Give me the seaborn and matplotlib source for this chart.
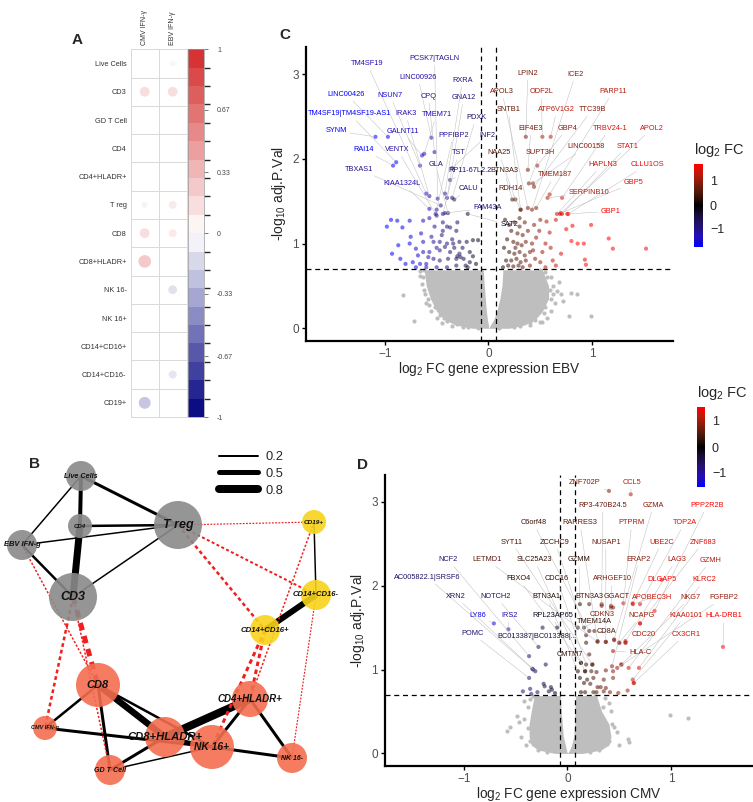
"""
Immune cell correlations (A, B) and volcano plots for EBV / CMV (C, D)
"""

import numpy as np
import pandas as pd
import matplotlib
matplotlib.use('Agg')
import matplotlib.pyplot as plt
import seaborn as sns
from matplotlib.colors import LinearSegmentedColormap, ListedColormap, BoundaryNorm, Normalize, TwoSlopeNorm
from matplotlib.cm import ScalarMappable
from matplotlib.lines import Line2D

sns.set_theme(style='white')
plt.rcParams['font.family'] = ['Liberation Sans', 'DejaVu Sans']
plt.rcParams['mathtext.fontset'] = 'custom'
plt.rcParams['mathtext.rm'] = 'Liberation Sans'
plt.rcParams['mathtext.it'] = 'Liberation Sans:italic'

# ============================================================
# DATA
# ============================================================
# --- A: correlation of IFN-y response with cell populations
a_rows = ['Live Cells', 'CD3', 'GD T Cell', 'CD4', 'CD4+HLADR+', 'T reg', 'CD8',
          'CD8+HLADR+', 'NK 16-', 'NK 16+', 'CD14+CD16+', 'CD14+CD16-', 'CD19+']
a_cols = ['CMV IFN-γ', 'EBV IFN-γ']
a_cmv = [0, 0.15, 0, 0, 0, -0.05, 0.15, 0.25, 0, 0, 0, 0, -0.22]
a_ebv = [0.05, 0.15, 0, 0, 0, 0.10, 0.10, 0, -0.12, 0, 0, -0.10, 0]
a_ticks = [1, 0.67, 0.33, 0, -0.33, -0.67, -1]

# --- B: network
node_names = ['Live Cells', 'CD4', 'EBV IFN-g', 'T reg', 'CD3', 'CD19+', 'CD14+CD16-',
              'CD14+CD16+', 'CD8', 'CMV IFN-g', 'CD8+HLADR+', 'NK 16+', 'CD4+HLADR+',
              'NK 16-', 'GD T Cell']
node_group = ['grey'] * 5 + ['yellow'] * 3 + ['coral'] * 7
node_x = [81, 80, 22, 178, 73, 314, 316, 265, 98, 45, 165, 212, 250, 292, 110]
node_y = [476, 526, 545, 525, 597, 522, 595, 630, 685, 728, 737, 747, 699, 758, 770]
node_r = [15, 12, 15, 24, 24, 12, 15, 15, 22, 12, 20, 22, 18, 15, 15]
edge_src = ['Live Cells', 'CD4', 'Live Cells', 'Live Cells', 'CD4', 'EBV IFN-g', 'EBV IFN-g',
            'CD3', 'CD19+', 'CD14+CD16-', 'CD8', 'CD8', 'CD8', 'CD8', 'CMV IFN-g',
            'CD8+HLADR+', 'NK 16+', 'NK 16+', 'CD4+HLADR+', 'GD T Cell', 'GD T Cell',
            'CD8+HLADR+',
            'T reg', 'T reg', 'T reg', 'CD19+', 'CD14+CD16-', 'CD14+CD16+', 'CD14+CD16+',
            'CD3', 'CD3', 'EBV IFN-g', 'CD3']
edge_dst = ['CD4', 'CD3', 'T reg', 'EBV IFN-g', 'T reg', 'T reg', 'CD3',
            'T reg', 'CD14+CD16-', 'CD14+CD16+', 'CMV IFN-g', 'GD T Cell', 'CD8+HLADR+', 'NK 16+',
            'NK 16+', 'CD4+HLADR+', 'CD4+HLADR+', 'NK 16-', 'NK 16-', 'CD8+HLADR+', 'NK 16+',
            'NK 16+',
            'CD19+', 'CD14+CD16-', 'CD14+CD16+', 'CD4+HLADR+', 'NK 16-', 'CD4+HLADR+', 'NK 16+',
            'CD8', 'CMV IFN-g', 'CD8', 'GD T Cell']
edge_w = [0.40, 0.70, 0.30, 0.15, 0.25, 0.15, 0.25,
          0.15, 0.15, 0.60, 0.25, 0.30, 0.65, 0.25,
          0.30, 0.80, 0.30, 0.30, 0.30, 0.30, 0.15,
          0.30,
          -0.12, -0.20, -0.25, -0.15, -0.12, -0.30, -0.30,
          -0.50, -0.25, -0.15, -0.15]

# --- C: EBV volcano, labelled genes
c_genes = ['TM4SF19', 'PCSK7|TAGLN', 'LINC00926', 'RXRA', 'LINC00426', 'NSUN7', 'CPQ', 'GNA12',
           'TM4SF19|TM4SF19-AS1', 'IRAK3', 'TMEM71', 'PDXK', 'SYNM', 'GALNT11', 'PPFIBP2', 'INF2',
           'RAI14', 'VENTX', 'TST', 'TBXAS1', 'GLA', 'RP11-67L2.2', 'KIAA1324L', 'CALU', 'FAM43A', 'SAT2',
           'LPIN2', 'ICE2', 'APOL3', 'ODF2L', 'PARP11', 'SNTB1', 'ATP6V1G2', 'TTC39B', 'EIF4E3', 'GBP4',
           'TRBV24-1', 'APOL2', 'SUPT3H', 'LINC00158', 'STAT1', 'NAA25', 'HAPLN3', 'CLLU1OS', 'BTN3A3',
           'TMEM187', 'GBP5', 'RDH14', 'SERPINB10', 'GBP1']
c_fc = [-0.60, -0.49, -0.55, -0.42, -0.97, -0.66, -0.52, -0.40, -0.89, -0.57, -0.62, -0.35, -1.09,
        -0.64, -0.50, -0.35, -0.92, -0.51, -0.44, -0.46, -0.39, -0.37, -0.57, -0.33, -0.42, -0.20,
        0.36, 0.42, 0.38, 0.52, 0.59, 0.31, 0.60, 0.44, 0.38, 0.47, 0.71, 0.69, 0.39, 0.43, 0.71,
        0.26, 0.66, 0.77, 0.23, 0.46, 0.70, 0.31, 0.57, 0.76]
c_p = [1.59, 1.53, 2.25, 1.59, 2.26, 1.92, 2.08, 1.54, 1.96, 1.56, 2.06, 1.54, 2.26, 2.04, 1.40,
       1.89, 1.92, 1.35, 1.35, 1.45, 1.36, 1.75, 1.41, 1.52, 1.36, 1.35,
       2.26, 1.40, 1.42, 2.26, 1.58, 1.40, 2.26, 1.67, 1.87, 1.92, 1.54, 1.35, 1.71, 1.71, 1.35,
       1.52, 1.35, 1.35, 1.52, 1.42, 1.36, 1.40, 1.54, 1.35]
# label positions (repelled)
c_tx = [-1.17, -0.52, -0.68, -0.25, -1.37, -0.95, -0.58, -0.24, -1.34, -0.80, -0.50, -0.12, -1.47,
        -0.83, -0.34, -0.01, -1.20, -0.88, -0.29, -1.25, -0.51, -0.18, -0.83, -0.19, -0.01, 0.20,
        0.38, 0.84, 0.13, 0.51, 1.20, 0.19, 0.66, 1.00, 0.41, 0.76, 1.17, 1.58, 0.50, 0.94, 1.34,
        0.10, 1.10, 1.53, 0.15, 0.64, 1.40, 0.21, 0.97, 1.18]
c_ty = [3.12, 3.18, 2.96, 2.93, 2.76, 2.75, 2.74, 2.72, 2.53, 2.53, 2.52, 2.49, 2.33, 2.32, 2.28,
        2.28, 2.11, 2.11, 2.07, 1.88, 1.93, 1.86, 1.71, 1.65, 1.42, 1.22,
        3.01, 3.00, 2.79, 2.79, 2.79, 2.58, 2.58, 2.58, 2.36, 2.36, 2.36, 2.36, 2.07, 2.14, 2.15,
        2.07, 1.93, 1.93, 1.86, 1.81, 1.72, 1.65, 1.60, 1.38]
# other significant genes (logFC, -log10 adj.P)
c_sig = np.array([
    (-0.94, 1.28), (-0.98, 1.20), (-0.88, 1.27), (-0.83, 1.19), (-0.76, 1.27), (-0.63, 1.27),
    (-0.57, 1.30), (-0.50, 1.33), (-0.44, 1.25), (-0.37, 1.19), (-0.31, 1.15), (-0.44, 1.15),
    (-0.63, 1.02), (-0.53, 1.02), (-0.47, 1.02), (-0.40, 1.00), (-0.34, 1.00), (-0.28, 1.02),
    (-0.21, 1.02), (-0.15, 1.04), (-0.10, 1.04), (-0.87, 0.98), (-0.76, 1.00), (-0.70, 0.94),
    (-0.63, 0.90), (-0.57, 0.90), (-0.47, 0.92), (-0.37, 0.90), (-0.28, 0.88), (-0.18, 0.90),
    (-0.73, 0.78), (-0.66, 0.76), (-0.60, 0.76), (-0.53, 0.82), (-0.47, 0.80), (-0.39, 0.82),
    (-0.31, 0.82), (-0.24, 0.82), (-0.18, 0.78), (-0.12, 0.76), (-0.80, 0.76), (-0.31, 0.74),
    (-0.22, 0.74), (-0.42, 0.96), (-0.50, 0.95), (-0.33, 0.95), (-0.30, 0.85), (-0.27, 0.84),
    (-0.55, 1.08), (-0.45, 1.10), (-0.35, 1.05), (-0.25, 0.95), (-0.58, 0.84), (-0.68, 0.86),
    (-0.85, 0.82), (-0.93, 0.88), (-0.40, 0.72), (-0.50, 0.72), (-0.60, 0.72), (-0.70, 0.72),
    (-0.20, 0.72), (-0.15, 0.85), (-0.52, 1.20), (-0.40, 1.20), (-0.30, 1.25), (-0.65, 1.12),
    (-0.75, 1.08),
    (0.16, 1.28), (0.20, 1.22), (0.25, 1.25), (0.30, 1.30), (0.35, 1.25), (0.22, 1.15),
    (0.28, 1.12), (0.33, 1.10), (0.38, 1.15), (0.18, 1.05), (0.24, 1.02), (0.28, 1.00),
    (0.32, 0.98), (0.36, 1.02), (0.42, 1.00), (0.20, 0.90), (0.25, 0.88), (0.30, 0.90),
    (0.35, 0.86), (0.40, 0.90), (0.17, 0.80), (0.22, 0.80), (0.27, 0.82), (0.31, 0.78),
    (0.36, 0.80), (0.45, 0.82), (0.19, 0.74), (0.24, 0.73), (0.29, 0.74), (0.33, 0.72),
    (0.40, 0.74), (0.50, 0.78), (0.55, 0.72), (0.15, 0.95), (0.46, 1.07), (0.49, 1.15),
    (0.59, 1.13), (0.55, 1.00), (0.62, 0.80), (0.65, 0.74), (0.75, 1.17), (0.81, 1.21),
    (0.80, 1.03), (0.86, 1.00), (0.92, 1.00), (0.93, 0.81), (0.94, 0.75), (0.99, 1.22),
    (1.16, 1.06), (1.20, 0.94), (1.52, 0.94), (0.43, 0.92), (0.52, 0.90), (0.60, 0.95),
    (0.70, 0.88), (0.26, 0.95), (0.14, 0.72), (0.44, 1.22), (0.50, 1.28), (0.56, 1.26),
    (0.65, 1.28), (0.30, 1.20)])
# non-significant cloud: outline per -log10 P level, plus stray points
c_ns_y = [0.0, 0.04, 0.10, 0.20, 0.35, 0.50, 0.69]
c_ns_lo = [-0.15, -0.32, -0.42, -0.50, -0.56, -0.60, -0.62]
c_ns_li = [0.00, 0.00, -0.01, -0.02, -0.03, -0.04, -0.05]
c_ns_ri = [0.00, 0.02, 0.05, 0.08, 0.11, 0.13, 0.14]
c_ns_ro = [0.20, 0.35, 0.45, 0.52, 0.58, 0.58, 0.52]
c_ns = np.array([
    (-0.82, 0.39), (-0.72, 0.09), (-0.66, 0.62), (-0.64, 0.52), (-0.62, 0.45), (-0.60, 0.30),
    (-0.55, 0.20), (-0.50, 0.12), (-0.45, 0.06), (-0.35, 0.03), (-0.66, 0.68), (-0.58, 0.66),
    (0.55, 0.66), (0.60, 0.60), (0.62, 0.50), (0.66, 0.44), (0.68, 0.55), (0.64, 0.30),
    (0.60, 0.20), (0.56, 0.12), (0.50, 0.08), (0.40, 0.04), (0.85, 0.40), (0.78, 0.15),
    (0.99, 0.15), (0.80, 0.42), (0.52, 0.07), (0.70, 0.40), (0.72, 0.32), (-0.50, 0.40),
    (-0.58, 0.58), (-0.20, 0.02), (0.25, 0.02), (-0.63, 0.60), (-0.61, 0.40), (-0.58, 0.35),
    (-0.52, 0.25), (-0.47, 0.16), (-0.40, 0.09), (-0.30, 0.05), (-0.25, 0.01), (-0.10, 0.00),
    (0.10, 0.00), (0.30, 0.03), (0.45, 0.10), (0.55, 0.25), (0.60, 0.35), (0.59, 0.45),
    (0.56, 0.60), (0.50, 0.69), (-0.62, 0.69), (-0.54, 0.44), (0.62, 0.40), (-0.57, 0.28),
    (0.54, 0.18), (-0.43, 0.12), (0.40, 0.08)])

# --- D: CMV volcano, labelled genes
d_genes = ['ZNF702P', 'CCL5', 'RP3-470B24.5', 'GZMA', 'PPP2R2B', 'C6orf48', 'RARRES3', 'PTPRM',
           'TOP2A', 'SYT11', 'ZCCHC9', 'NUSAP1', 'UBE2C', 'ZNF683', 'LETMD1', 'SLC25A23', 'GZMM',
           'ERAP2', 'LAG3', 'GZMH', 'FBXO4', 'CDC16', 'ARHGEF10', 'DLGAP5', 'KLRC2', 'BTN3A1',
           'BTN3A3', 'GGACT', 'APOBEC3H', 'NKG7', 'FGFBP2', 'CDKN3', 'NCAPG', 'KIAA0101', 'HLA-DRB1',
           'TMEM14A', 'CD8A', 'CDC20', 'CX3CR1', 'CMTM7', 'HLA-C',
           'NCF2', 'AC005822.1|SRSF6', 'XRN2', 'NOTCH2', 'LY86', 'IRS2', 'RPL23AP65', 'POMC',
           'BC013387|BC013388|...']
d_fc = [0.40, 0.61, 0.33, 0.45, 0.84, 0.21, 0.29, 0.54, 0.70, 0.24, 0.18, 0.37, 0.63, 0.70, 0.29,
        0.17, 0.12, 0.43, 0.56, 0.59, 0.13, 0.18, 0.42, 0.91, 0.69, 0.10, 0.21, 0.33, 0.63, 0.52,
        0.48, 0.44, 0.50, 0.63, 1.50, 0.16, 0.26, 0.56, 0.64, 0.21, 0.44,
        -0.37, -0.34, -0.31, -0.28, -0.71, -0.57, -0.10, -0.37, -0.24]
d_p = [3.13, 3.09, 1.76, 1.36, 1.70, 1.46, 1.34, 1.79, 1.78, 1.06, 1.41, 1.33, 1.79, 1.55, 1.33,
       0.98, 1.78, 1.04, 1.34, 1.02, 1.08, 1.06, 1.74, 2.07, 1.02, 0.98, 1.78, 1.78, 1.78, 1.06,
       1.02, 1.74, 1.32, 0.88, 1.27, 1.50, 1.46, 1.32, 0.84, 1.18, 1.22,
       1.16, 1.01, 0.98, 1.27, 1.55, 1.48, 1.50, 0.90, 1.50]
d_tx = [0.17, 0.62, 0.34, 0.83, 1.35, -0.33, 0.12, 0.62, 1.13, -0.54, -0.12, 0.37, 0.91, 1.31,
        -0.78, -0.32, 0.11, 0.69, 1.05, 1.38, -0.47, -0.10, 0.43, 0.91, 1.32, -0.20, 0.21, 0.47,
        0.82, 1.19, 1.51, 0.33, 0.71, 1.14, 1.51, 0.26, 0.38, 0.74, 1.14, 0.02, 0.70,
        -1.15, -1.35, -1.08, -0.69, -0.87, -0.56, -0.14, -0.92, -0.29]
d_ty = [3.23, 3.23, 2.96, 2.96, 2.96, 2.75, 2.75, 2.75, 2.75, 2.52, 2.52, 2.52, 2.52, 2.52, 2.31,
        2.31, 2.31, 2.31, 2.31, 2.30, 2.08, 2.08, 2.08, 2.07, 2.07, 1.87, 1.87, 1.87, 1.86, 1.86,
        1.86, 1.66, 1.64, 1.64, 1.64, 1.57, 1.45, 1.42, 1.42, 1.18, 1.20,
        2.31, 2.10, 1.87, 1.87, 1.65, 1.65, 1.65, 1.43, 1.39]
d_sig = np.array([
    (-0.21, 1.06), (-0.33, 1.00), (-0.23, 0.83), (-0.22, 0.80), (-0.16, 0.79), (-0.15, 0.76),
    (-0.36, 0.77), (-0.43, 0.74), (-0.29, 0.73), (-0.18, 0.74), (-0.35, 0.71), (-0.12, 0.72),
    (0.52, 1.06), (0.37, 0.99), (0.64, 0.84), (0.58, 0.75), (0.44, 0.98), (0.37, 1.33),
    (0.45, 1.35), (0.56, 1.32), (0.18, 1.32), (0.13, 1.08), (0.24, 1.06), (0.17, 0.98),
    (0.23, 0.98), (0.28, 0.97), (0.12, 0.90), (0.19, 0.88), (0.25, 0.90), (0.35, 0.88),
    (0.16, 0.84), (0.22, 0.83), (0.29, 0.79), (0.32, 0.79), (0.37, 0.78), (0.13, 0.73),
    (0.17, 0.73), (0.25, 0.73), (0.28, 0.73), (0.35, 0.74), (0.41, 0.73), (0.49, 0.72),
    (0.44, 0.90), (0.42, 1.76), (0.70, 1.55), (0.50, 1.32), (0.10, 1.50)])
d_ns_y = [0.0, 0.04, 0.10, 0.20, 0.35, 0.50, 0.69]
d_ns_lo = [-0.12, -0.28, -0.35, -0.37, -0.37, -0.35, -0.32]
d_ns_li = [0.00, -0.01, -0.02, -0.04, -0.05, -0.06, -0.07]
d_ns_ri = [0.00, 0.02, 0.04, 0.06, 0.07, 0.07, 0.08]
d_ns_ro = [0.15, 0.32, 0.40, 0.42, 0.40, 0.33, 0.28]
d_ns = np.array([
    (-0.49, 0.45), (-0.58, 0.27), (-0.55, 0.31), (-0.47, 0.37), (-0.42, 0.41), (0.99, 0.46),
    (1.16, 0.42), (0.58, 0.17), (0.59, 0.14), (0.45, 0.31), (-0.45, 0.20), (-0.40, 0.10),
    (-0.38, 0.55), (0.42, 0.50), (0.48, 0.25), (0.50, 0.10), (0.40, 0.60), (-0.36, 0.65),
    (-0.42, 0.62), (0.36, 0.66), (-0.20, 0.02), (0.22, 0.02), (-0.38, 0.30), (-0.36, 0.15),
    (-0.28, 0.04), (0.30, 0.04), (0.40, 0.15), (0.43, 0.35), (0.34, 0.55), (-0.33, 0.69),
    (0.27, 0.69)])

# ============================================================
# FIGURE SETUP
# ============================================================
W, H = 753, 802
fig = plt.figure(figsize=(W / 100, H / 100), dpi=100)


def px_axes(l, t, r, b):
    return fig.add_axes([l / W, 1 - b / H, (r - l) / W, (b - t) / H])


def panel_letter(x, y, s):
    fig.text(x / W, 1 - y / H, s, fontsize=11, fontweight='bold', ha='center', va='center')


# ============================================================
# A. CORRELATION GRID
# ============================================================
cmap_a = LinearSegmentedColormap.from_list('corr', ['#00007F', '#FFFFFF', '#D42A2A'])
dfA = pd.DataFrame({
    'xi': [0] * len(a_rows) + [1] * len(a_rows),
    'yi': list(range(len(a_rows))) * 2,
    'r': a_cmv + a_ebv,
})
dfA['absr'] = dfA['r'].abs()
dfA = dfA[dfA['r'] != 0]

ax_a = px_axes(130.7, 49.3, 186.7, 417)
sns.scatterplot(data=dfA, x='xi', y='yi', hue='r', hue_norm=(-1, 1), palette=cmap_a,
                size='absr', size_norm=(0, 1), sizes=(0, 330), legend=False,
                linewidth=0, ax=ax_a)
ax_a.set_xlim(-0.5, 1.5)
ax_a.set_ylim(len(a_rows) - 0.5, -0.5)
ax_a.set_xticks([0, 1])
ax_a.set_xticklabels(a_cols, rotation=90, fontsize=5)
ax_a.xaxis.tick_top()
ax_a.set_yticks(range(len(a_rows)))
ax_a.set_yticklabels(a_rows, fontsize=5.3)
ax_a.set_xticks(np.arange(-0.5, 2, 1), minor=True)
ax_a.set_yticks(np.arange(-0.5, len(a_rows), 1), minor=True)
ax_a.grid(which='minor', color='#D9D9D9', lw=0.7)
ax_a.grid(which='major', visible=False)
ax_a.tick_params(which='both', length=0, pad=3, colors='#333333')
ax_a.set_xlabel('')
ax_a.set_ylabel('')
for s in ax_a.spines.values():
    s.set_color('#D9D9D9')
    s.set_linewidth(0.7)

cax_a = px_axes(187.5, 49.3, 204.5, 417)
bins = np.linspace(-1, 1, 21)
bin_cols = ListedColormap(cmap_a((bins[:-1] + bins[1:]) / 2 * 0.5 + 0.5))
cb_a = fig.colorbar(ScalarMappable(norm=BoundaryNorm(bins, 20), cmap=bin_cols), cax=cax_a,
                    ticks=a_ticks)
cb_a.ax.set_yticklabels([f'{t:g}' for t in a_ticks])
cb_a.ax.tick_params(labelsize=5, length=3, width=0.5, colors='#444444', pad=6)
cb_a.outline.set_linewidth(0.5)
cb_a.outline.set_edgecolor('#999999')
panel_letter(77, 40, 'A')

# ============================================================
# B. NETWORK
# ============================================================
ax_b = px_axes(0, 430, 370, 800)
ax_b.set_xlim(0, 370)
ax_b.set_ylim(800, 430)
ax_b.axis('off')

pos = {n: (x, y) for n, x, y in zip(node_names, node_x, node_y)}
for a, b, w in zip(edge_src, edge_dst, edge_w):
    (x1, y1), (x2, y2) = pos[a], pos[b]
    lw = abs(w) * 10 * 0.72
    if w > 0:
        ax_b.plot([x1, x2], [y1, y2], color='black', lw=lw, solid_capstyle='butt', zorder=1)
    else:
        ax_b.plot([x1, x2], [y1, y2], color='#F01E1E', lw=lw, ls=(0, (1.5, 1.2)),
                  dash_capstyle='butt', zorder=1)

node_area = (2 * np.array(node_r) * 0.72) ** 2
sns.scatterplot(x=node_x, y=node_y, hue=node_group,
                palette={'grey': '#8A8A8A', 'yellow': '#F9D31C', 'coral': '#F46E50'},
                size=node_area, sizes=(node_area.min(), node_area.max()),
                size_norm=(node_area.min(), node_area.max()),
                alpha=0.9, linewidth=0, legend=False, ax=ax_b, zorder=3)

label_fs = [5.2, 4.4, 5.4, 9, 9, 4.6, 5.5, 5.6, 8, 4, 8.1, 7.4, 7, 5, 5.1]
for n, x, y, fs in zip(node_names, node_x, node_y, label_fs):
    ax_b.text(x, y, n, fontsize=fs, fontweight='bold', style='italic', ha='center',
              va='center', color='#111111', zorder=4)

handles = [Line2D([], [], color='black', lw=v * 10 * 0.72) for v in (0.2, 0.5, 0.8)]
ax_b.legend(handles, ['0.2', '0.5', '0.8'], loc='upper left',
            bbox_to_anchor=(219 / W, 1 - 451 / H), bbox_transform=fig.transFigure,
            frameon=False, fontsize=9.3, handlelength=3.0, handletextpad=0.6,
            labelspacing=0.38, borderpad=0, borderaxespad=0)
panel_letter(35, 464, 'B')

# ============================================================
# C / D. VOLCANO PLOTS
# ============================================================
cmap_v = LinearSegmentedColormap.from_list('fc', [
    (0.0, '#0000FF'), (0.125, '#230EB9'), (0.25, '#241177'), (0.375, '#1B0E3C'),
    (0.5, '#000000'), (0.625, '#3F1508'), (0.75, '#7A1B0C'), (0.875, '#BA190A'),
    (1.0, '#FF0000')])
mark_norm = Normalize(-0.8, 0.8, clip=True)


def volcano(ax, cax, genes, fc, p, tx, ty, sig, ns_y, ns_lo, ns_li, ns_ri, ns_ro, ns,
            xlabel, cb_lims):
    ax.fill_betweenx(ns_y, ns_lo, ns_li, color='#BEBEBE', lw=0, zorder=1)
    ax.fill_betweenx(ns_y, ns_ri, ns_ro, color='#BEBEBE', lw=0, zorder=1)
    sns.scatterplot(x=ns[:, 0], y=ns[:, 1], color='#BEBEBE', s=9, linewidth=0, ax=ax, zorder=2)

    all_fc = np.concatenate([sig[:, 0], fc])
    all_p = np.concatenate([sig[:, 1], p])
    sns.scatterplot(x=all_fc, y=all_p, hue=all_fc, palette=cmap_v, hue_norm=mark_norm,
                    s=9, alpha=0.55, linewidth=0, legend=False, ax=ax, zorder=3)

    ax.axvline(-0.07, color='black', lw=0.9, ls=(0, (4, 3)), zorder=4)
    ax.axvline(0.07, color='black', lw=0.9, ls=(0, (4, 3)), zorder=4)
    ax.axhline(-np.log10(0.2), color='black', lw=0.9, ls=(0, (4, 3)), zorder=4)

    for g, x, y, lx, ly in zip(genes, fc, p, tx, ty):
        ax.annotate(g, xy=(x, y), xytext=(lx, ly), ha='center', va='center', fontsize=5.3,
                    color=cmap_v(mark_norm(x)), zorder=5,
                    arrowprops=dict(arrowstyle='-', color='#BDBDBD', lw=0.35,
                                    shrinkA=0, shrinkB=1.2))

    ax.set_xlim(-1.76, 1.78)
    ax.set_ylim(-0.15, 3.32)
    ax.set_xticks([-1, 0, 1])
    ax.set_yticks([0, 1, 2, 3])
    ax.set_xlabel(xlabel, fontsize=9.8, labelpad=0)
    ax.set_ylabel('-log$_{10}$ adj.P.Val', fontsize=10, labelpad=3)
    ax.tick_params(labelsize=8.5, labelcolor='#4D4D4D', length=3, width=1, color='black',
                   left=True, bottom=True, pad=2)
    sns.despine(ax=ax)
    for s in ('left', 'bottom'):
        ax.spines[s].set_linewidth(1.6)
        ax.spines[s].set_color('black')

    cb = fig.colorbar(ScalarMappable(norm=TwoSlopeNorm(vmin=cb_lims[0], vcenter=0,
                                                       vmax=cb_lims[1]), cmap=cmap_v),
                      cax=cax, ticks=[-1, 0, 1])
    cb.outline.set_visible(False)
    cb.ax.tick_params(labelsize=9, length=2, width=0.8, color='white', direction='in', pad=5)
    cb.ax.set_title('log$_2$ FC', fontsize=10.5, loc='left', pad=7)


ax_c = px_axes(306, 47, 673, 341)
cax_c = px_axes(694, 164, 703, 247)
volcano(ax_c, cax_c, c_genes, c_fc, c_p, c_tx, c_ty, c_sig, c_ns_y, c_ns_lo, c_ns_li,
        c_ns_ri, c_ns_ro, c_ns, 'log$_2$ FC gene expression EBV', (-1.78, 1.67))
panel_letter(285, 35, 'C')

ax_d = px_axes(385, 475, 752, 766)
cax_d = px_axes(697, 407, 705, 487)
volcano(ax_d, cax_d, d_genes, d_fc, d_p, d_tx, d_ty, d_sig, d_ns_y, d_ns_lo, d_ns_li,
        d_ns_ri, d_ns_ro, d_ns, 'log$_2$ FC gene expression CMV', (-1.58, 1.5))
panel_letter(363, 465, 'D')

plt.savefig('out.png', dpi=100)
plt.close()
